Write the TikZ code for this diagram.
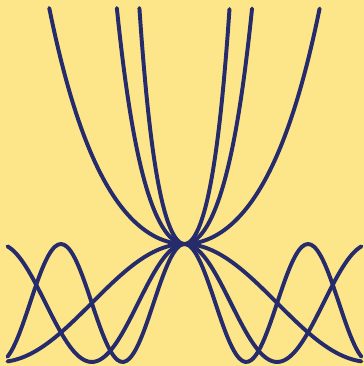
\documentclass[tikz,border=0pt]{standalone}
\usepackage{tikz}

\definecolor{fond}{RGB}{253,230,138}
\definecolor{encre}{RGB}{38,43,107}

\begin{document}
\begin{tikzpicture}[x=1cm, y=1cm,
    courbe/.style={encre, line width=1.9pt, line cap=round, line join=round, smooth, samples=120}]

  % Fond
  \fill[fond] (-3.127, -1.068) rectangle (3.042, 5.136);
  \useasboundingbox (-3.127, -1.068) rectangle (3.042, 5.136);

  % cos(kx) et cosh(kx), k = 1, 2, 3
  \foreach \k in {1, 2, 3} {
    \draw[courbe, domain=-3:3] plot (\x, {cos(\k*\x r)});
    \pgfmathsetmacro{\xmax}{2.2924/\k}
    \draw[courbe, domain=-\xmax:\xmax] plot (\x, {cosh(\k*\x)});
  }

\end{tikzpicture}
\end{document}
